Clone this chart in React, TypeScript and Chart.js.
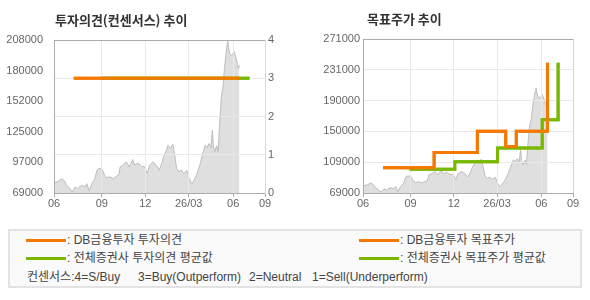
import React, { useEffect, useRef } from "react";
import { Chart, registerables } from "chart.js";

Chart.register(...registerables);

// ---- data ----
const X_TICK_DAYS = [0, 99, 189, 279, 371, 437];
const X_TICK_LABELS = ["06", "09", "12", "26/03", "06", "09"];

const PRICE_DAYS = [
  0, 1, 9, 16, 22, 26, 33, 38, 44, 49, 54, 59, 64, 68, 73, 78, 84, 89, 92, 99,
  105, 109, 116, 123, 129, 134, 137, 143, 150, 156, 163, 167, 174, 181, 188, 193,
  198, 205, 212, 218, 223, 228, 233, 236, 241, 246, 249, 254, 259, 264, 269, 275,
  280, 285, 288, 295, 302, 309, 313, 317, 321, 325, 328, 330, 333, 337, 340, 344,
  347, 350, 353, 358, 360, 362, 364, 368, 371, 373, 377, 380, 382, 384,
];
const PRICE_VALUES = [
  78000, 78500, 79700, 82100, 79900, 76000, 73000, 70000, 74500, 73000, 75100,
  76000, 74500, 77500, 70800, 77500, 81200, 89700, 91200, 91000, 85100, 83000,
  83600, 82100, 84300, 85100, 92700, 94300, 97200, 92700, 99400, 94300, 96300,
  93300, 92700, 86600, 94300, 97200, 94300, 89700, 95800, 103300, 107900, 112400,
  109400, 113300, 106300, 91200, 88100, 90000, 86600, 89700, 82100, 77000, 79000,
  85200, 94300, 106300, 112500, 110000, 114000, 110000, 126000, 112000, 106300,
  112000, 106300, 139700, 157900, 165000, 182200, 202000, 207000, 200000, 195000,
  194000, 196000, 197800, 192000, 186000, 182200, 185000,
];

const LEFT_PRICE_TICK_LABELS = ["69000", "97000", "125000", "152000", "180000", "208000"];
const LEFT_PRICE_MIN = 69000;
const LEFT_PRICE_MAX = 208000;
const OPINION_TICK_LABELS = ["0", "1", "2", "3", "4"];

const RIGHT_PRICE_TICK_LABELS = ["69000", "109000", "150000", "190000", "231000", "271000"];
const RIGHT_PRICE_MIN = 69000;
const RIGHT_PRICE_MAX = 271000;

const DB_OPINION_DAYS = [41, 384];
const DB_OPINION_VALUES = [3, 3];
const AVG_OPINION_DAYS = [97, 405];
const AVG_OPINION_VALUES = [3, 3];

const DB_TARGET_DAYS = [42, 148, 238, 297, 319, 384];
const DB_TARGET_VALUES = [102000, 122000, 150000, 130000, 150000, 240000];
const AVG_TARGET_DAYS = [97, 191, 280, 373, 406];
const AVG_TARGET_VALUES = [100000, 110000, 128000, 165000, 240000];

// ---- styles ----
const ORANGE = "#f57800";
const GREEN = "#7ab800";
const AREA_FILL = "#dfdfdf";
const AREA_LINE = "#bdbdbd";
const AXIS_COLOR = "#ababab";
const GRID_COLOR = "#e9e9e9";
const TICK_FONT = { family: "'Liberation Sans', Arial, sans-serif", size: 11 };
const TICK_COLOR = "#666";
const KR_FONT = "'Noto Sans CJK KR', 'Noto Sans', sans-serif";
const LEGEND_FONT = "'Liberation Sans', 'Noto Sans CJK KR', sans-serif";

const pts = (xs: number[], ys: number[]) => xs.map((x, i) => ({ x, y: ys[i] }));
const evenTicks = (min: number, max: number, n: number) =>
  Array.from({ length: n }, (_, i) => ({ value: min + ((max - min) * i) / (n - 1) }));

const linesOnTop = {
  id: "linesOnTop",
  afterDraw(chart: any) {
    chart.data.datasets.forEach((ds: any, i: number) => {
      if (ds.onTop) chart.getDatasetMeta(i).controller.draw();
    });
  },
};

function makeXScale() {
  const last = X_TICK_DAYS.length - 1;
  return {
    type: "linear",
    min: X_TICK_DAYS[0],
    max: X_TICK_DAYS[last],
    afterBuildTicks: (s: any) => {
      s.ticks = X_TICK_DAYS.map((v) => ({ value: v }));
    },
    afterFit: (s: any) => {
      s.height = 22;
    },
    ticks: {
      autoSkip: false,
      maxRotation: 0,
      font: TICK_FONT,
      color: TICK_COLOR,
      padding: 0,
      callback: (_v: any, i: number) => X_TICK_LABELS[i],
    },
    grid: {
      z: 1,
      color: (c: any) => (c.index === last ? "#d6d6d6" : GRID_COLOR),
      tickColor: AXIS_COLOR,
      tickLength: 4,
    },
    border: { color: AXIS_COLOR, z: 2 },
  };
}

function LeftChart() {
  const ref = useRef<HTMLCanvasElement>(null);
  useEffect(() => {
    const chart = new Chart(ref.current!, {
      type: "line",
      data: {
        datasets: [
          {
            data: pts(PRICE_DAYS, PRICE_VALUES),
            yAxisID: "y",
            fill: "start",
            backgroundColor: AREA_FILL,
            borderColor: AREA_LINE,
            borderWidth: 1,
            pointRadius: 0,
            order: 3,
          },
          {
            data: pts(AVG_OPINION_DAYS, AVG_OPINION_VALUES),
            yAxisID: "y1",
            borderColor: GREEN,
            borderWidth: 3,
            pointRadius: 0,
            fill: false,
            order: 2,
            onTop: true,
          },
          {
            data: pts(DB_OPINION_DAYS, DB_OPINION_VALUES),
            yAxisID: "y1",
            borderColor: ORANGE,
            borderWidth: 3,
            pointRadius: 0,
            fill: false,
            order: 1,
            onTop: true,
          },
        ] as any,
      },
      options: {
        responsive: false,
        animation: false,
        devicePixelRatio: 1,
        layout: { padding: { top: 40, left: 0, right: 0, bottom: 0 } },
        plugins: { legend: { display: false }, tooltip: { enabled: false } },
        scales: {
          x: makeXScale() as any,
          y: {
            position: "left",
            min: LEFT_PRICE_MIN,
            max: LEFT_PRICE_MAX,
            afterBuildTicks: (s: any) => {
              s.ticks = evenTicks(LEFT_PRICE_MIN, LEFT_PRICE_MAX, LEFT_PRICE_TICK_LABELS.length);
            },
            afterFit: (s: any) => {
              s.width = 54;
            },
            ticks: {
              font: TICK_FONT,
              color: TICK_COLOR,
              padding: 3,
              callback: (_v: any, i: number) => LEFT_PRICE_TICK_LABELS[i],
            },
            grid: { display: false },
            border: { color: AXIS_COLOR, z: 2 },
          },
          y1: {
            position: "right",
            min: 0,
            max: OPINION_TICK_LABELS.length - 1,
            afterBuildTicks: (s: any) => {
              s.ticks = evenTicks(0, OPINION_TICK_LABELS.length - 1, OPINION_TICK_LABELS.length);
            },
            afterFit: (s: any) => {
              s.width = 30;
            },
            ticks: {
              font: TICK_FONT,
              color: TICK_COLOR,
              padding: 3,
              callback: (_v: any, i: number) => OPINION_TICK_LABELS[i],
            },
            grid: {
              z: 1,
              drawTicks: false,
              color: (c: any) =>
                c.index === OPINION_TICK_LABELS.length - 1 ? AXIS_COLOR : GRID_COLOR,
            },
            border: { color: "#d9d9d9", z: 2 },
          },
        },
      } as any,
      plugins: [linesOnTop],
    });
    return () => chart.destroy();
  }, []);
  return <canvas ref={ref} width={295} height={215} style={{ display: "block" }} />;
}

function RightChart() {
  const ref = useRef<HTMLCanvasElement>(null);
  useEffect(() => {
    const chart = new Chart(ref.current!, {
      type: "line",
      data: {
        datasets: [
          {
            data: pts(PRICE_DAYS, PRICE_VALUES),
            fill: "start",
            backgroundColor: AREA_FILL,
            borderColor: AREA_LINE,
            borderWidth: 1,
            pointRadius: 0,
            order: 3,
          },
          {
            data: pts(AVG_TARGET_DAYS, AVG_TARGET_VALUES),
            borderColor: GREEN,
            borderWidth: 3,
            pointRadius: 0,
            fill: false,
            stepped: true,
            order: 2,
            onTop: true,
          },
          {
            data: pts(DB_TARGET_DAYS, DB_TARGET_VALUES),
            borderColor: ORANGE,
            borderWidth: 3,
            pointRadius: 0,
            fill: false,
            stepped: true,
            order: 1,
            onTop: true,
          },
        ] as any,
      },
      options: {
        responsive: false,
        animation: false,
        devicePixelRatio: 1,
        layout: { padding: { top: 39, left: 0, right: 17, bottom: 0 } },
        plugins: { legend: { display: false }, tooltip: { enabled: false } },
        scales: {
          x: makeXScale() as any,
          y: {
            position: "left",
            min: RIGHT_PRICE_MIN,
            max: RIGHT_PRICE_MAX,
            afterBuildTicks: (s: any) => {
              s.ticks = evenTicks(RIGHT_PRICE_MIN, RIGHT_PRICE_MAX, RIGHT_PRICE_TICK_LABELS.length);
            },
            afterFit: (s: any) => {
              s.width = 68;
            },
            ticks: {
              font: TICK_FONT,
              color: TICK_COLOR,
              padding: 3,
              callback: (_v: any, i: number) => RIGHT_PRICE_TICK_LABELS[i],
            },
            grid: {
              z: 1,
              drawTicks: false,
              color: (c: any) =>
                c.index === RIGHT_PRICE_TICK_LABELS.length - 1 ? AXIS_COLOR : GRID_COLOR,
            },
            border: { color: AXIS_COLOR, z: 2 },
          },
        },
      } as any,
      plugins: [linesOnTop],
    });
    return () => chart.destroy();
  }, []);
  return <canvas ref={ref} width={295} height={215} style={{ display: "block" }} />;
}

const titleStyle: React.CSSProperties = {
  position: "absolute",
  fontFamily: KR_FONT,
  fontWeight: 700,
  fontSize: 13,
  color: "#333",
  lineHeight: "16px",
  whiteSpace: "nowrap",
};

const legendText: React.CSSProperties = {
  position: "absolute",
  fontFamily: LEGEND_FONT,
  fontSize: 12,
  color: "#444",
  lineHeight: "16px",
  whiteSpace: "pre",
};

function LegendLine({ x, y, color }: { x: number; y: number; color: string }) {
  return (
    <div
      style={{ position: "absolute", left: x, top: y - 1.5, width: 40, height: 3, background: color }}
    />
  );
}

export default function App() {
  return (
    <div
      style={{
        position: "absolute",
        left: 0,
        top: 0,
        width: 590,
        height: 300,
        background: "#fff",
        overflow: "hidden",
      }}
    >
      <div style={{ position: "absolute", left: 0, top: 0 }}>
        <LeftChart />
      </div>
      <div style={{ position: "absolute", left: 295, top: 0 }}>
        <RightChart />
      </div>
      <div style={{ ...titleStyle, left: 55, top: 12 }}>투자의견(컨센서스) 추이</div>
      <div style={{ ...titleStyle, left: 367, top: 11 }}>목표주가 추이</div>

      <div
        style={{
          position: "absolute",
          left: 8,
          top: 229,
          width: 570,
          height: 55,
          border: "2px solid #e3e3e3",
          background: "#fafafa",
        }}
      />
      <LegendLine x={26} y={240} color={ORANGE} />
      <div style={{ ...legendText, left: 67, top: 232 }}>: DB금융투자 투자의견</div>
      <LegendLine x={26} y={258} color={GREEN} />
      <div style={{ ...legendText, left: 67, top: 250 }}>: 전체증권사 투자의견 평균값</div>
      <LegendLine x={359} y={240} color={ORANGE} />
      <div style={{ ...legendText, left: 400, top: 232 }}>: DB금융투자 목표주가</div>
      <LegendLine x={359} y={258} color={GREEN} />
      <div style={{ ...legendText, left: 400, top: 250 }}>: 전체증권사 목표주가 평균값</div>
      <div style={{ ...legendText, left: 27, top: 269 }}>컨센서스:4=S/Buy</div>
      <div style={{ ...legendText, left: 138, top: 269 }}>3=Buy(Outperform)</div>
      <div style={{ ...legendText, left: 249, top: 269 }}>2=Neutral</div>
      <div style={{ ...legendText, left: 312, top: 269 }}>1=Sell(Underperform)</div>
    </div>
  );
}
